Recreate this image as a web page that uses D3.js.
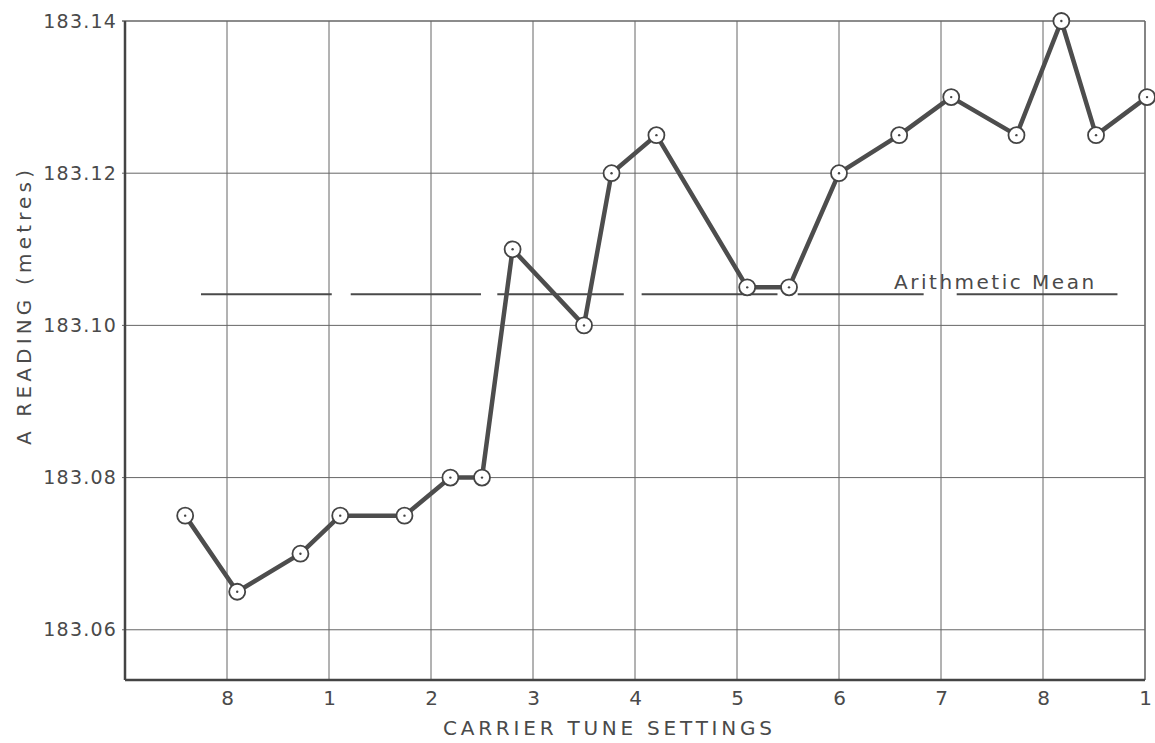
<!DOCTYPE html>
<html>
<head>
<meta charset="utf-8">
<script src="https://cdn.jsdelivr.net/npm/d3@7"></script>
<style>
  body { margin: 0; background: #fff; }
  text { font-family: "DejaVu Sans", sans-serif; fill: #4a4a4a; }
</style>
</head>
<body>
<div id="chart"></div>
<script>
// tick labels along the bottom (carrier tune setting numbers)
var settingTicks = [1, 2, 3, 4, 5, 6, 7, 8, 9, 10];
var settingLabels = ["8", "1", "2", "3", "4", "5", "6", "7", "8", "1"];

// readings: position along the setting axis and the A reading in metres
var readingPos = [0.59, 1.10, 1.72, 2.11, 2.74, 3.19, 3.50, 3.80, 4.50, 4.77,
                  5.21, 6.10, 6.51, 7.00, 7.59, 8.10, 8.74, 9.18, 9.52, 10.02];
var readingValues = [183.075, 183.065, 183.070, 183.075, 183.075, 183.080, 183.080, 183.110, 183.100, 183.120,
                     183.125, 183.105, 183.105, 183.120, 183.125, 183.130, 183.125, 183.140, 183.125, 183.130];

var yTicks = [183.06, 183.08, 183.10, 183.12, 183.14];

// arithmetic mean, drawn as broken segments
var meanValue = 183.1041;
var meanSegments = [[0.745, 2.027], [2.213, 3.49], [3.65, 4.89], [5.065, 6.397], [6.595, 7.83], [8.154, 9.73]];

var margin = {top: 21, right: 10, bottom: 63, left: 125},
    width = 1155 - margin.left - margin.right,
    height = 743 - margin.top - margin.bottom;

var svg = d3.select("#chart").append("svg")
    .attr("width", 1155)
    .attr("height", 743);

var g = svg.append("g")
    .attr("transform", "translate(" + margin.left + "," + margin.top + ")");

var x = d3.scaleLinear().domain([0, 10]).range([0, width]);
var y = d3.scaleLinear().domain([183.0534, 183.14]).range([height, 0]);

// grid
g.selectAll(".vgrid")
  .data(settingTicks)
  .enter()
  .append("line")
  .attr("class", "vgrid")
  .attr("x1", function(d) { return x(d); })
  .attr("x2", function(d) { return x(d); })
  .attr("y1", 0)
  .attr("y2", height)
  .attr("stroke", "#666")
  .attr("stroke-width", function(d) { return d === 10 ? 1.6 : 1; });

g.selectAll(".hgrid")
  .data(yTicks)
  .enter()
  .append("line")
  .attr("class", "hgrid")
  .attr("x1", -3)
  .attr("x2", width)
  .attr("y1", function(d) { return y(d); })
  .attr("y2", function(d) { return y(d); })
  .attr("stroke", "#666")
  .attr("stroke-width", function(d) { return d === 183.14 ? 1.5 : 1; });

// axes (labels only, frame drawn below)
var yAxis = g.append("g")
  .call(d3.axisLeft(y).tickValues(yTicks).tickFormat(d3.format(".2f")).tickSize(0).tickPadding(8));
yAxis.select(".domain").remove();
yAxis.selectAll("text")
  .attr("font-size", 19)
  .attr("letter-spacing", 1.2)
  .attr("font-family", "DejaVu Sans")
  .style("fill", "#4a4a4a");

var xAxis = g.append("g")
  .attr("transform", "translate(0," + height + ")")
  .call(d3.axisBottom(x).tickValues(settingTicks)
    .tickFormat(function(d, i) { return settingLabels[i]; })
    .tickSize(0).tickPadding(11));
xAxis.select(".domain").remove();
xAxis.selectAll("text")
  .attr("font-size", 20)
  .attr("font-family", "DejaVu Sans")
  .style("fill", "#4a4a4a");

// frame: left and bottom heavier
g.append("line").attr("x1", 0).attr("x2", 0).attr("y1", 0).attr("y2", height)
  .attr("stroke", "#444").attr("stroke-width", 2.5);
g.append("line").attr("x1", 0).attr("x2", width).attr("y1", height).attr("y2", height)
  .attr("stroke", "#444").attr("stroke-width", 2.5);

// mean segments
g.selectAll(".mean")
  .data(meanSegments)
  .enter()
  .append("line")
  .attr("class", "mean")
  .attr("x1", function(d) { return x(d[0]); })
  .attr("x2", function(d) { return x(d[1]); })
  .attr("y1", y(meanValue))
  .attr("y2", y(meanValue))
  .attr("stroke", "#4a4a4a")
  .attr("stroke-width", 2);

g.append("text")
  .text("Arithmetic Mean")
  .attr("x", x(7.54))
  .attr("y", y(meanValue) - 5)
  .attr("font-size", 20)
  .attr("textLength", 200)
  .attr("lengthAdjust", "spacing");

// readings line
var points = readingPos.map(function(p, i) { return [p, readingValues[i]]; });

var line = d3.line()
  .x(function(d) { return x(d[0]); })
  .y(function(d) { return y(d[1]); });

g.append("path")
  .datum(points)
  .attr("d", line)
  .attr("fill", "none")
  .attr("stroke", "#4d4d4d")
  .attr("stroke-width", 4.5)
  .attr("stroke-linejoin", "round");

g.selectAll(".pt")
  .data(points)
  .enter()
  .append("circle")
  .attr("class", "pt")
  .attr("cx", function(d) { return x(d[0]); })
  .attr("cy", function(d) { return y(d[1]); })
  .attr("r", 8)
  .attr("fill", "#fff")
  .attr("stroke", "#444")
  .attr("stroke-width", 1.8);

g.selectAll(".dot")
  .data(points)
  .enter()
  .append("circle")
  .attr("class", "dot")
  .attr("cx", function(d) { return x(d[0]); })
  .attr("cy", function(d) { return y(d[1]); })
  .attr("r", 1.2)
  .attr("fill", "#444");

// axis titles
svg.append("text")
  .text("CARRIER TUNE SETTINGS")
  .attr("x", 443)
  .attr("y", 735)
  .attr("font-size", 20)
  .attr("textLength", 329)
  .attr("lengthAdjust", "spacing");

svg.append("text")
  .text("A READING (metres)")
  .attr("transform", "translate(31,445) rotate(-90)")
  .attr("font-size", 20)
  .attr("textLength", 275)
  .attr("lengthAdjust", "spacing");
</script>
</body>
</html>
